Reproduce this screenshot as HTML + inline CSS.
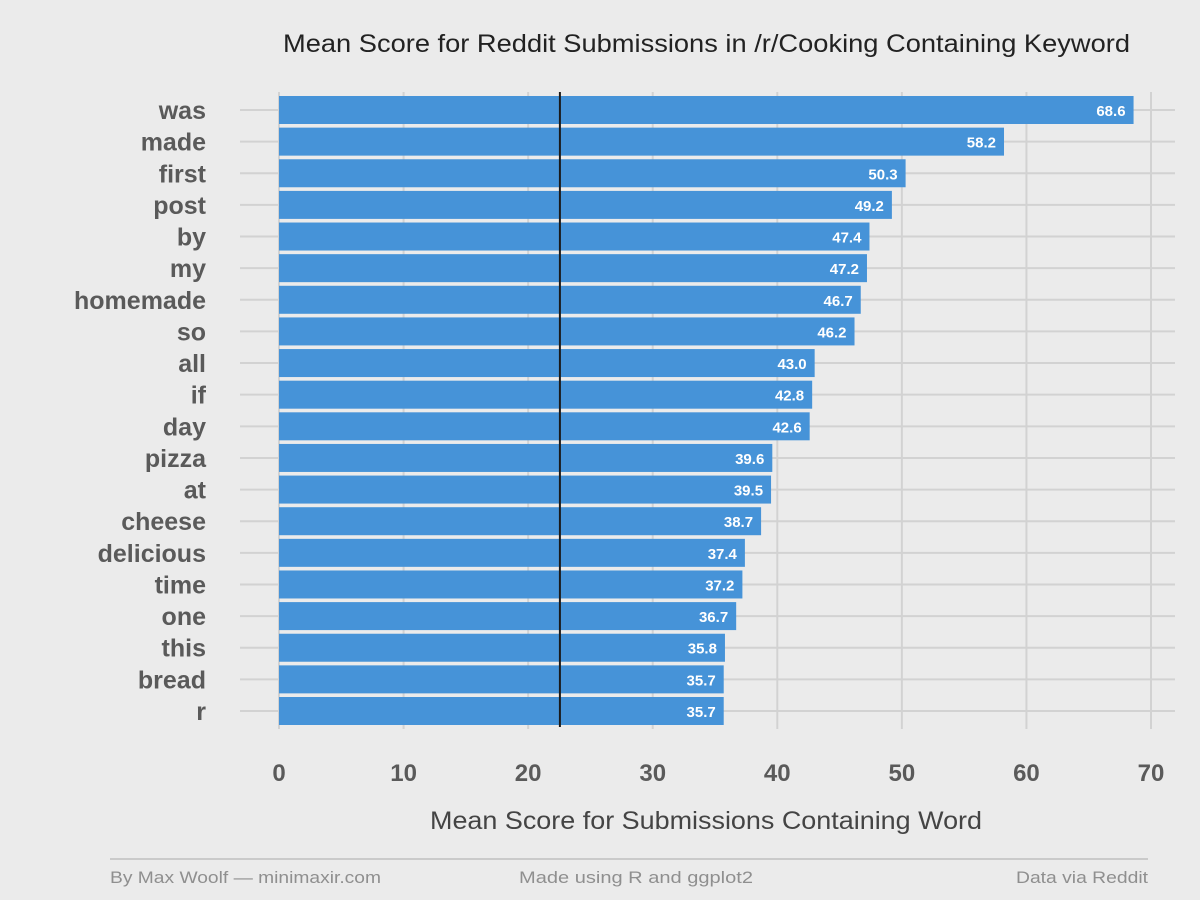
<!DOCTYPE html>
<html><head><meta charset="utf-8"><style>
body{margin:0;background:#ebebeb;}
svg{display:block;font-family:"Liberation Sans Narrow","Liberation Sans",sans-serif;}
</style></head><body>
<svg id="chart" width="1200" height="900">
<rect width="1200" height="900" fill="#ebebeb"/>
<text x="283" y="52" textLength="847" lengthAdjust="spacingAndGlyphs" font-size="25" fill="#222" font-family="Liberation Sans, sans-serif">Mean Score for Reddit Submissions in /r/Cooking Containing Keyword</text>
<g id="grid"></g><g id="bars"></g><g id="labels"></g>
<text x="430" y="829" textLength="552" lengthAdjust="spacingAndGlyphs" font-size="25" fill="#444" font-family="Liberation Sans, sans-serif">Mean Score for Submissions Containing Word</text>
<line x1="110" y1="859" x2="1148" y2="859" stroke="#aaa" stroke-width="1"/>
<text x="110" y="883" textLength="271" lengthAdjust="spacingAndGlyphs" font-size="17" fill="#8f8f8f" font-family="Liberation Sans, sans-serif">By Max Woolf — minimaxir.com</text>
<text x="519" y="883" textLength="234" lengthAdjust="spacingAndGlyphs" font-size="17" fill="#8f8f8f" font-family="Liberation Sans, sans-serif">Made using R and ggplot2</text>
<text x="1016" y="883" textLength="132" lengthAdjust="spacingAndGlyphs" font-size="17" fill="#8f8f8f" font-family="Liberation Sans, sans-serif">Data via Reddit</text>
</svg>
<script>
const categories=["was","made","first","post","by","my","homemade","so","all","if","day","pizza","at","cheese","delicious","time","one","this","bread","r"];
const values=[68.6,58.2,50.3,49.2,47.4,47.2,46.7,46.2,43.0,42.8,42.6,39.6,39.5,38.7,37.4,37.2,36.7,35.8,35.7,35.7];
const ticks=[0,10,20,30,40,50,60,70];
const meanLine=22.55;
const NS="http://www.w3.org/2000/svg";
const x=v=>279+v*(1151-279)/70;
const y=i=>110+i*(711-110)/19;
function mk(tag,attrs,parent,text){const e=document.createElementNS(NS,tag);for(const k in attrs)e.setAttribute(k,attrs[k]);if(text!==undefined)e.textContent=text;parent.appendChild(e);return e;}
const grid=document.getElementById('grid'),bars=document.getElementById('bars'),labels=document.getElementById('labels');
ticks.forEach(t=>{
  const l=mk('line',{x1:x(t),x2:x(t),y1:92,y2:729,stroke:'#d2d2d2','stroke-width':2},grid);
  
  
  const tx=mk('text',{x:x(t),y:781,'text-anchor':'middle','font-size':24,'font-weight':'bold',fill:'#5a5a5a'},labels,String(t));
  
  
});
categories.forEach((c,i)=>{
  const l=mk('line',{x1:240,x2:1175,y1:y(i),y2:y(i),stroke:'#d2d2d2','stroke-width':2},grid);
  
  
  const r=mk('rect',{x:x(0),y:y(i)-14,width:x(values[i])-x(0),height:28,fill:'#4693d8'},bars);
  
  
  const v=mk('text',{x:x(values[i])-8,y:y(i)+6,'text-anchor':'end','font-size':15,'font-weight':'bold',fill:'#fff'},labels,values[i].toFixed(1));
  
  
  const t=mk('text',{x:206,y:y(i)+9,'text-anchor':'end','font-size':25,'font-weight':'bold',fill:'#5a5a5a'},labels,c);
  
  
});
const m=mk('line',{x1:x(meanLine),x2:x(meanLine),y1:92,y2:727,stroke:'#1a1a1a','stroke-width':2},bars);


</script>
</body></html>
